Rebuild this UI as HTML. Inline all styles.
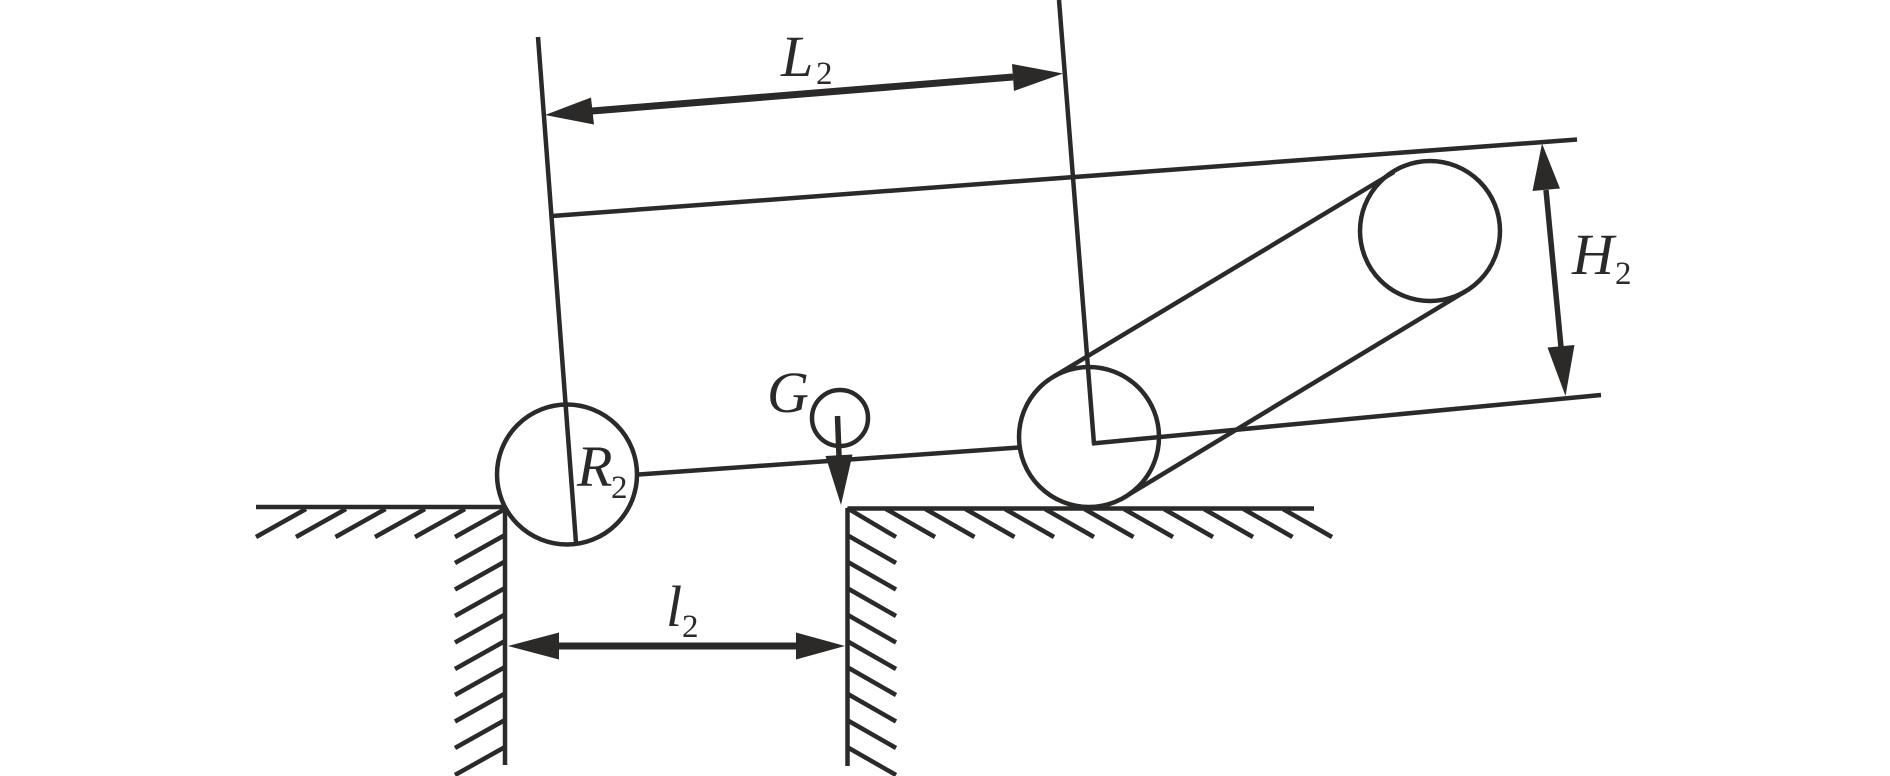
<!DOCTYPE html>
<html>
<head>
<meta charset="utf-8">
<style>
html,body{margin:0;padding:0;background:#fff;width:1890px;height:776px;overflow:hidden}
svg{display:block}
text{font-family:"Liberation Serif",serif;fill:#2b2a29}
.m{font-style:italic;font-size:58px}
.s{font-size:33px}
</style>
</head>
<body>
<svg width="1890" height="776" viewBox="0 0 1890 776" xmlns="http://www.w3.org/2000/svg">
<g stroke="#2b2a29" stroke-width="4.500" fill="none">
  <!-- ground and walls -->
  <path d="M256 507H505M505 507V765M847.500 508V766M847.500 508.500H1314"/>
  <!-- left ground hatches -->
  <path d="M256 537L306 509M296 537L346 509M335.500 537L385.500 509M375 537L425 509M415 537L465 509M455 537L505 509"/>
  <!-- left wall hatches -->
  <path d="M455 563L505 535M455 589.500L505 561.500M455 616L505 588M455 642.500L505 614.500M455 669L505 641M455 695L505 667M455 721.500L505 693.500M455 748L505 720M455 775L505 747"/>
  <!-- right wall hatches -->
  <path d="M847 508L896 537M847 535L896 563M847 561.500L896 589.500M847 588L896 616M847 614.500L896 642.500M847 641L896 669M847 667L896 695M847 693.500L896 721.500M847 720L896 748M847 747L896 775"/>
  <!-- right ground hatches -->
  <path d="M886 509L935 537M925.500 509L974.500 537M965.500 509L1014.500 537M1005 509L1054 537M1045 509L1094 537M1084.500 509L1133.500 537M1124 509L1173 537M1164 509L1213 537M1204 509L1253 537M1243.500 509L1292.500 537M1283 509L1332 537"/>
  <!-- circles -->
  <circle cx="567" cy="474.500" r="70"/>
  <circle cx="1089" cy="437" r="70"/>
  <circle cx="1430" cy="231" r="70"/>
  <circle cx="840" cy="418" r="28"/>
  <!-- rotated frame -->
  <path d="M538 37L576 543"/>
  <path d="M1059 0L1094 444"/>
  <path d="M552 216L1577 139.500"/>
  <path d="M1092 443.500L1601 395"/>
  <path d="M638.500 474.500L1019 447.500"/>
  <!-- belt -->
  <path d="M1053 377L1394 172M1128 495L1466 291"/>
</g>
<!-- dimension shafts -->
<g stroke="#2b2a29" fill="none">
  <path d="M592 111L1013 77" stroke-width="7"/>
  <path d="M559 646H796" stroke-width="7"/>
  <path d="M1546 190L1561 347" stroke-width="5.500"/>
  <path d="M837.500 416L839 456" stroke-width="5.500"/>
</g>
<!-- arrowheads -->
<g fill="#2b2a29">
  <polygon points="545,115 591,97.500 594,124.500"/>
  <polygon points="1063,73.500 1012,64 1014,91"/>
  <polygon points="508,646 559,632.500 559,659.500"/>
  <polygon points="845,646 796,632.500 796,659.500"/>
  <polygon points="1542,143.500 1532.500,191 1560,188.500"/>
  <polygon points="1565.500,396 1547.500,347.500 1574.500,345"/>
  <polygon points="841,505 825.500,456 852.500,454.500"/>
</g>
<!-- labels -->
<text class="m" x="781" y="76" textLength="36">L</text>
<text class="s" x="816" y="84">2</text>
<text class="m" x="577" y="486">R</text>
<text class="s" x="611" y="498">2</text>
<text class="m" x="767" y="412">G</text>
<text class="m" x="666" y="626">l</text>
<text class="s" x="682" y="637">2</text>
<text class="m" x="1572" y="274">H</text>
<text class="s" x="1615" y="284">2</text>
</svg>
</body>
</html>
